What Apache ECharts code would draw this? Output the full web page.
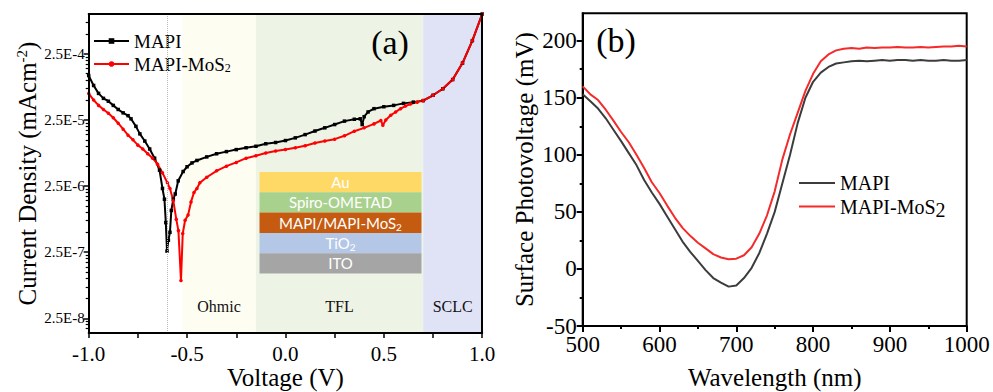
<!DOCTYPE html>
<html>
<head>
<meta charset="utf-8">
<script src="https://cdn.jsdelivr.net/npm/echarts@6/dist/echarts.min.js"></script>
<style>html,body{margin:0;padding:0;background:#fff}#c{width:993px;height:392px}</style>
</head>
<body>
<div id="c"></div>
<script>
// ---------- Panel (a): J-V curves (log scale) ----------
const voltageMAPI = [-1.00,-0.975,-0.95,-0.925,-0.90,-0.875,-0.85,-0.825,-0.80,-0.785,-0.76,-0.74,-0.715,-0.69,-0.665,-0.64,-0.625,-0.615,-0.608,-0.602,-0.595,-0.587,-0.58,-0.57,-0.56,-0.545,-0.52,-0.50,-0.475,-0.45,-0.40,-0.35,-0.30,-0.25,-0.20,-0.15,-0.10,-0.05,0.00,0.05,0.10,0.15,0.20,0.25,0.30,0.35,0.38,0.39,0.40,0.42,0.45,0.50,0.55,0.60,0.65,0.70,0.75,0.80,0.85,0.90,0.95,1.00];
const currentMAPI = [1.17e-4,8.3e-5,6.3e-5,5.3e-5,4.8e-5,4.15e-5,3.6e-5,3.2e-5,2.9e-5,2.6e-5,2.0e-5,1.54e-5,1.2e-5,9.1e-6,6.6e-6,4.35e-6,2.3e-6,1.58e-6,7.0e-7,2.6e-7,3.8e-7,5.0e-7,1.07e-6,1.58e-6,1.9e-6,3.0e-6,4.15e-6,4.9e-6,5.6e-6,6.1e-6,6.9e-6,7.7e-6,8.3e-6,8.9e-6,9.5e-6,1.0e-5,1.09e-5,1.14e-5,1.22e-5,1.34e-5,1.5e-5,1.7e-5,1.9e-5,2.13e-5,2.4e-5,2.56e-5,2.6e-5,2.13e-5,2.8e-5,3.3e-5,3.7e-5,3.96e-5,4.15e-5,4.45e-5,4.65e-5,4.9e-5,5.9e-5,7.4e-5,1.02e-4,1.81e-4,3.96e-4,1.0e-3];
const voltageMoS2 = [-1.00,-0.975,-0.95,-0.925,-0.90,-0.875,-0.85,-0.825,-0.80,-0.775,-0.75,-0.725,-0.70,-0.675,-0.65,-0.625,-0.60,-0.587,-0.57,-0.555,-0.544,-0.531,-0.522,-0.51,-0.495,-0.48,-0.465,-0.45,-0.435,-0.40,-0.35,-0.30,-0.25,-0.20,-0.15,-0.10,-0.05,0.00,0.05,0.10,0.15,0.20,0.25,0.30,0.35,0.40,0.45,0.485,0.495,0.51,0.535,0.56,0.585,0.61,0.635,0.67,0.70,0.75,0.80,0.85,0.90,0.95,1.00];
const currentMoS2 = [6.3e-5,5.0e-5,4.15e-5,3.6e-5,3.15e-5,2.7e-5,2.23e-5,1.81e-5,1.47e-5,1.25e-5,1.04e-5,9.1e-6,7.7e-6,6.6e-6,5.35e-6,3.96e-6,2.8e-6,2.3e-6,1.5e-6,7.9e-7,5.3e-7,9.3e-8,4.8e-7,7.6e-7,9.1e-7,1.44e-6,2.0e-6,2.3e-6,2.8e-6,3.4e-6,4.25e-6,5.0e-6,5.7e-6,6.6e-6,7.2e-6,7.9e-6,8.5e-6,8.9e-6,9.5e-6,1.02e-5,1.12e-5,1.2e-5,1.28e-5,1.44e-5,1.69e-5,1.9e-5,2.18e-5,2.45e-5,2.08e-5,2.5e-5,2.94e-5,3.3e-5,3.7e-5,4.05e-5,4.35e-5,4.65e-5,4.9e-5,5.9e-5,7.4e-5,1.02e-4,1.81e-4,3.96e-4,1.0e-3];
const yTickValuesA = [2.5e-8, 2.5e-7, 2.5e-6, 2.5e-5, 2.5e-4];
const regionNames = ['Ohmic', 'TFL', 'SCLC'];
const regionStart = [-0.525, -0.15, 0.7];
const regionEnd = [-0.15, 0.7, 1.0];
const guideVoltage = -0.6;
const layerNames = ['Au', 'Spiro-OMETAD', 'MAPI/MAPI-MoS{s|2}', 'TiO{s|2}', 'ITO'];

// ---------- Panel (b): surface photovoltage ----------
const wavelength = [500,510,520,530,540,550,560,570,580,590,600,610,620,630,640,650,660,670,680,690,700,710,720,730,740,750,760,770,780,790,800,810,820,830,840,850,860,870,880,890,900,910,920,930,940,950,960,970,980,990,1000];
const spvMAPI = [153,147,140.5,132,122,112,101.5,91,78,67,57,46,35,24,15,7,-1,-8,-12,-15.5,-14.5,-8,1,14,31,50,75,100,128,150,164,172,177,180,181,182,182.5,182,182.5,183,182.5,183,183,182.5,183,182.5,182.5,183,182.5,182.5,183];
const spvMoS2 = [160,153,148,139.5,130,120,111,100,88.5,76,66.5,55.5,45,36,29,23,18,13,10,8.5,9,12,19,31,47,68,96,118,137,156,171,182,188,191.5,193,193.5,193,194,193.5,194,194,194.5,194,194,194.5,194,194.5,195,195,195.5,195];
const yTicksB = [-50, 0, 50, 100, 150, 200];
const yMinorB = [-25, 25, 75, 125, 175];

// ---------- styling / layout ----------
const SERIF = '"Liberation Serif","Times New Roman",serif';
const SANS = 'Lato,"Noto Sans",sans-serif';
const regionColors = ['#fdfdf2', '#edf4e5', '#e0e2f6'];
const layerColors = ['#ffd966', '#a9d18e', '#c55a11', '#b4c7e7', '#a5a5a5'];
const yMinA = 1.5e-8, yMaxA = 1e-3;

const pairs = (xs, ys) => xs.map((x, i) => [x, ys[i]]);
const minorA = [];
[2.5e-9].concat(yTickValuesA).forEach(t => {
  for (let k = 2; k <= 9; k++) {
    const v = t * k;
    if (v > yMinA * 1.02 && v < yMaxA * 0.98) minorA.push(v);
  }
});
const fmtLog = v => {
  let raw = v;
  if (!(v > 0 && v < 1)) raw = Math.pow(10, v);
  return '2.5E' + Math.round(Math.log10(raw / 2.5));
};

const black = '#000';
const axisLineStyle = { lineStyle: { color: black, width: 2 }, onZero: false };

const graphics = [];
const L0x = 259.5, L0y = 172, Lw = 162, Lh = 20.3;
layerNames.forEach((n, i) => {
  graphics.push({ type: 'rect', silent: true, z: 10,
    shape: { x: L0x, y: L0y + i * Lh, width: Lw, height: Lh },
    style: { fill: layerColors[i] } });
  graphics.push({ type: 'text', silent: true, z: 11,
    x: L0x + Lw / 2, y: L0y + i * Lh + Lh / 2,
    style: { text: n, fill: '#fff', fontSize: 15, fontFamily: SANS, align: 'center', verticalAlign: 'middle', lineHeight: 18,
      rich: { s: { fontSize: 10, lineHeight: 10, fontFamily: SANS, fill: '#fff', verticalAlign: 'bottom' } } } });
});
graphics.push({ type: 'text', silent: true, z: 11, x: 390, y: 42,
  style: { text: '(a)', fontSize: 34, fontFamily: SERIF, fill: '#000', align: 'center', verticalAlign: 'middle' } });
graphics.push({ type: 'text', silent: true, z: 11, x: 616, y: 40,
  style: { text: '(b)', fontSize: 34, fontFamily: SERIF, fill: '#000', align: 'center', verticalAlign: 'middle' } });

const option = {
  animation: false,
  backgroundColor: '#fff',
  grid: [
    { left: 88.7, top: 14, width: 393.5, height: 319, containLabel: false, outerBoundsMode: 'none' },
    { left: 582.7, top: 13.3, width: 384, height: 312.7, containLabel: false, outerBoundsMode: 'none',
      show: true, borderColor: black, borderWidth: 2, backgroundColor: 'transparent' }
  ],
  legend: [
    { left: 93, top: 31, orient: 'vertical', padding: 0, itemGap: 3, itemWidth: 35, itemHeight: 7, selectedMode: false,
      data: ['MAPI', 'MAPI-MoS2'],
      formatter: n => n === 'MAPI-MoS2' ? 'MAPI-MoS{sub|2}' : n,
      textStyle: { fontFamily: SERIF, fontSize: 19, color: black, lineHeight: 20,
        rich: { sub: { fontFamily: SERIF, fontSize: 12, lineHeight: 12, color: black, verticalAlign: 'bottom' } } } },
    { left: 799, top: 173, orient: 'vertical', padding: 0, itemGap: 0, itemWidth: 36, itemHeight: 2, icon: 'rect', selectedMode: false,
      data: ['MAPI (SPV)', 'MAPI-MoS2 (SPV)'],
      formatter: n => n === 'MAPI-MoS2 (SPV)' ? 'MAPI-MoS{s|2}' : 'MAPI',
      textStyle: { fontFamily: SERIF, fontSize: 20, color: black, lineHeight: 20,
        rich: { s: { fontFamily: SERIF, fontSize: 20, lineHeight: 27, color: black, verticalAlign: 'bottom' } } } }
  ],
  xAxis: [
    { gridIndex: 0, type: 'value', min: -1, max: 1, interval: 0.5, z: 5,
      axisLine: axisLineStyle,
      axisTick: { show: true, inside: false, length: 5, lineStyle: { color: black, width: 1.5 } },
      minorTick: { show: true, splitNumber: 2, length: 5, lineStyle: { color: black, width: 1.5 } },
      splitLine: { show: false }, minorSplitLine: { show: false },
      axisLabel: { formatter: v => v.toFixed(1), fontFamily: SERIF, fontSize: 21, color: black, margin: 10 },
      name: 'Voltage (V)', nameLocation: 'middle', nameGap: 32, nameMoveOverlap: false,
      nameTextStyle: { fontFamily: SERIF, fontSize: 25, color: black, lineHeight: 25 } },
    { gridIndex: 0, type: 'value', position: 'top', min: -1, max: 1, z: 5,
      axisLine: axisLineStyle, axisTick: { show: false }, axisLabel: { show: false }, splitLine: { show: false } },
    { gridIndex: 1, type: 'value', min: 500, max: 1000, interval: 100,
      axisLine: axisLineStyle,
      axisTick: { show: true, inside: false, length: 6, lineStyle: { color: black, width: 2 } },
      minorTick: { show: true, splitNumber: 2, length: 3, lineStyle: { color: black, width: 2 } },
      splitLine: { show: false }, minorSplitLine: { show: false },
      axisLabel: { formatter: v => String(v), fontFamily: SERIF, fontSize: 23, color: black, margin: 7 },
      name: 'Wavelength (nm)', nameLocation: 'middle', nameGap: 39, nameMoveOverlap: false,
      nameTextStyle: { fontFamily: SERIF, fontSize: 25, color: black, lineHeight: 25 } }
  ],
  yAxis: [
    { gridIndex: 0, type: 'log', logBase: 10, min: yMinA, max: yMaxA, z: 5,
      axisLine: axisLineStyle,
      axisTick: { show: true, inside: false, length: 5, customValues: yTickValuesA, lineStyle: { color: black, width: 1.5 } },
      axisLabel: { customValues: yTickValuesA, formatter: fmtLog, fontFamily: SERIF, fontSize: 15, color: black, margin: 4 },
      splitLine: { show: false }, minorTick: { show: false },
      name: 'Current Density (mAcm{sup|-2})', nameLocation: 'middle', nameGap: 49,
      nameTextStyle: { fontFamily: SERIF, fontSize: 25, color: black,
        rich: { sup: { fontFamily: SERIF, fontSize: 15, color: black, verticalAlign: 'top' } } } },
    { gridIndex: 0, type: 'log', logBase: 10, position: 'left', min: yMinA, max: yMaxA, z: 5,
      axisLine: { show: false, onZero: false },
      axisTick: { show: true, inside: false, length: 3, customValues: minorA, lineStyle: { color: black, width: 1.2 } },
      axisLabel: { show: false }, splitLine: { show: false } },
    { gridIndex: 0, type: 'value', position: 'right', min: 0, max: 1, z: 5,
      axisLine: axisLineStyle, axisTick: { show: false }, axisLabel: { show: false }, splitLine: { show: false } },
    { gridIndex: 1, type: 'value', position: 'left', min: -50, max: 224, interval: 50,
      axisLine: axisLineStyle,
      axisTick: { show: true, inside: false, length: 6, customValues: yTicksB, lineStyle: { color: black, width: 2 } },
      axisLabel: { customValues: yTicksB, fontFamily: SERIF, fontSize: 23, color: black, margin: 6 },
      splitLine: { show: false },
      name: 'Surface Photovoltage (mV)', nameLocation: 'middle', nameGap: 46,
      nameTextStyle: { fontFamily: SERIF, fontSize: 25, color: black } },
    { gridIndex: 1, type: 'value', position: 'left', min: -50, max: 224,
      axisLine: { show: false, onZero: false },
      axisTick: { show: true, inside: false, length: 3, customValues: yMinorB, lineStyle: { color: black, width: 2 } },
      axisLabel: { show: false }, splitLine: { show: false } }
  ],
  series: [
    { type: 'line', name: 'regions', xAxisIndex: 0, yAxisIndex: 0, data: [], z: 1, silent: true,
      markArea: { silent: true,
        data: regionNames.map((n, i) => [
          { name: n, xAxis: regionStart[i], itemStyle: { color: regionColors[i] } },
          { xAxis: regionEnd[i] }
        ]),
        label: { show: true, position: 'insideBottom', distance: 19, fontFamily: SERIF, fontSize: 16, color: '#111' } },
      markLine: { silent: true, symbol: ['none', 'none'], label: { show: false },
        lineStyle: { type: 'dotted', color: '#b8b8b8', width: 1 },
        data: [{ xAxis: guideVoltage }] } },
    { type: 'line', name: 'MAPI', xAxisIndex: 0, yAxisIndex: 0, data: pairs(voltageMAPI, currentMAPI),
      symbol: 'rect', symbolSize: 3.5, showSymbol: true, z: 3,
      lineStyle: { color: '#000', width: 2 }, itemStyle: { color: '#000' } },
    { type: 'line', name: 'MAPI-MoS2', xAxisIndex: 0, yAxisIndex: 0, data: pairs(voltageMoS2, currentMoS2),
      symbol: 'circle', symbolSize: 3.5, showSymbol: true, z: 3,
      lineStyle: { color: '#ff0000', width: 2 }, itemStyle: { color: '#ff0000' } },
    { type: 'line', name: 'MAPI (SPV)', xAxisIndex: 2, yAxisIndex: 3, data: pairs(wavelength, spvMAPI),
      symbol: 'none', lineStyle: { color: '#3c3c3c', width: 2 }, itemStyle: { color: '#3c3c3c' } },
    { type: 'line', name: 'MAPI-MoS2 (SPV)', xAxisIndex: 2, yAxisIndex: 3, data: pairs(wavelength, spvMoS2),
      symbol: 'none', lineStyle: { color: '#f52a2a', width: 2 }, itemStyle: { color: '#f52a2a' } }
  ],
  graphic: graphics
};

const chart = echarts.init(document.getElementById('c'), null, { renderer: 'svg', width: 993, height: 392 });
chart.setOption(option);
</script>
</body>
</html>
